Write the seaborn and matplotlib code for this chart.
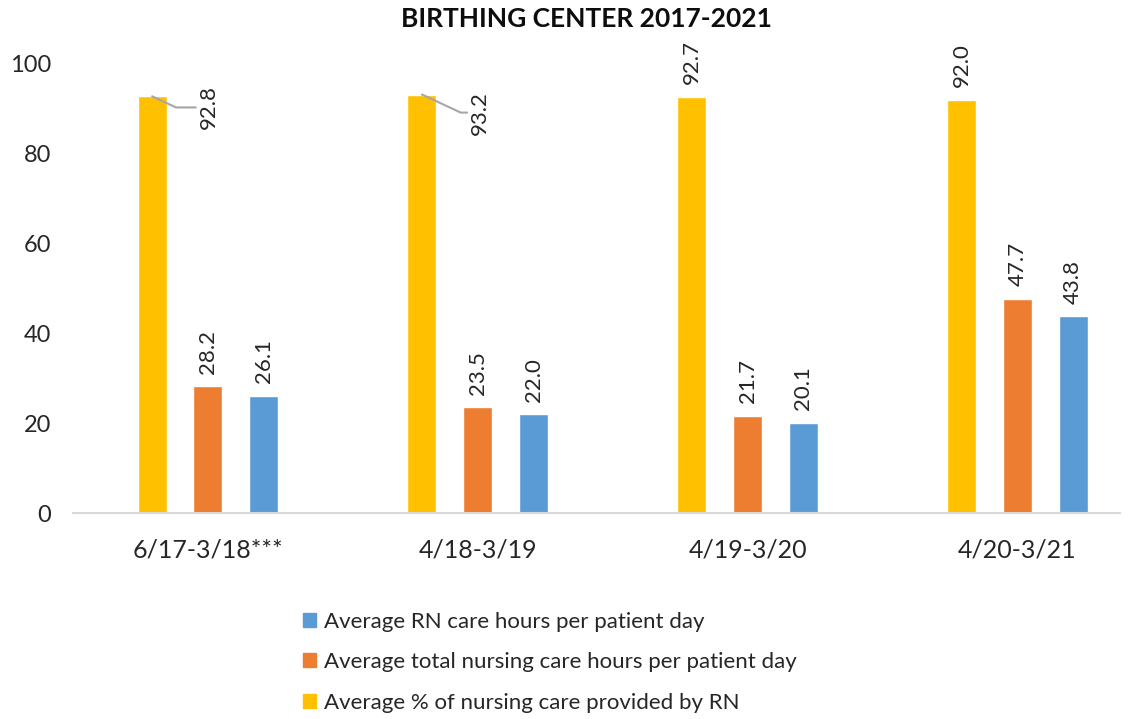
import pandas as pd
import matplotlib.pyplot as plt
import seaborn as sns
from matplotlib.patches import Patch


periods = ["6/17-3/18***", "4/18-3/19", "4/19-3/20", "4/20-3/21"]
pct_rn = [92.8, 93.2, 92.7, 92.0]
total_hours = [28.2, 23.5, 21.7, 47.7]
rn_hours = [26.1, 22.0, 20.1, 43.8]

series = [
    "Average % of nursing care provided by RN",
    "Average total nursing care hours per patient day",
    "Average RN care hours per patient day",
]
colors = ["#FFC000", "#ED7D31", "#5B9BD5"]

df = pd.DataFrame({
    "period": periods * 3,
    "value": pct_rn + total_hours + rn_hours,
    "series": [series[0]] * 4 + [series[1]] * 4 + [series[2]] * 4,
})

sns.set_style("white")
plt.rcParams["font.family"] = ["Lato", "DejaVu Sans"]

fig = plt.figure(figsize=(11.46, 7.19), dpi=100)
ax = fig.add_axes([0.0637, 0.2865, 0.9136, 0.6245])

sns.barplot(data=df, x="period", y="value", hue="series", hue_order=series,
            palette=colors, saturation=1, width=0.62, gap=0.48, ax=ax,
            legend=False)

ax.set_ylim(0, 100)
ax.set_xlim(-0.5, 3.38)
ax.set_yticks([0, 20, 40, 60, 80, 100])
ax.set_xlabel("")
ax.set_ylabel("")
sns.despine(ax=ax, left=True)
ax.spines["bottom"].set_color("#D9D9D9")
ax.spines["bottom"].set_linewidth(1.5)
ax.tick_params(axis="y", length=0, pad=16, labelsize=17, labelcolor="#262626")
ax.tick_params(axis="x", length=0, pad=18, labelsize=18, labelcolor="#262626")

# value labels
for i, cont in enumerate(ax.containers):
    for j, bar in enumerate(cont):
        val = bar.get_height()
        x = bar.get_x() + bar.get_width() / 2
        if i == 0 and j in (0, 1):
            off = (41, -8) if j == 0 else (42, -13)
            ax.annotate(f"{val:.1f}", xy=(x, val), xytext=off,
                        textcoords="offset points", rotation=90,
                        ha="center", va="center", fontsize=16, color="#262626",
                        arrowprops=dict(arrowstyle="-", color="#A6A6A6", lw=1.5,
                                        shrinkA=0, shrinkB=0,
                                        connectionstyle="angle,angleA=0,angleB=-25,rad=0"))
        else:
            ax.annotate(f"{val:.1f}", xy=(x, val), xytext=(0, 9),
                        textcoords="offset points", rotation=90,
                        ha="center", va="bottom", fontsize=16, color="#262626")

fig.suptitle("BIRTHING CENTER 2017-2021", x=0.512, y=0.99, fontsize=19,
             fontweight="bold", color="#0D0D0D")

handles = [Patch(color=c) for c in colors][::-1]
fig.legend(handles, series[::-1], loc="upper left", bbox_to_anchor=(0.247, 0.177),
           frameon=False, fontsize=16, labelspacing=0.92, handlelength=0.6,
           handleheight=0.6, handletextpad=0.35, labelcolor="#262626")

plt.savefig("out.png", dpi=100)
